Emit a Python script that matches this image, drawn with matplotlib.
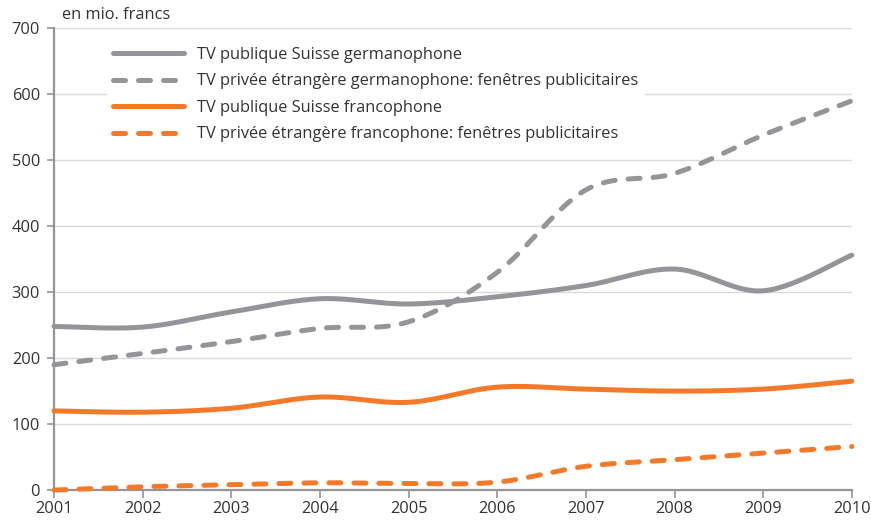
import numpy as np
import matplotlib
matplotlib.use("Agg")
import matplotlib.pyplot as plt
from matplotlib.lines import Line2D

years = [2001, 2002, 2003, 2004, 2005, 2006, 2007, 2008, 2009, 2010]
tv_pub_de = [248, 247, 270, 290, 282, 293, 310, 335, 302, 356]
tv_priv_de = [190, 207, 225, 245, 255, 330, 455, 480, 538, 590]
tv_pub_fr = [120, 118, 124, 141, 133, 156, 153, 150, 153, 165]
tv_priv_fr = [0, 5, 8, 11, 10, 12, 36, 46, 56, 66]
labels = [
    "TV publique Suisse germanophone",
    "TV privée étrangère germanophone: fenêtres publicitaires",
    "TV publique Suisse francophone",
    "TV privée étrangère francophone: fenêtres publicitaires",
]
y_label = "en mio. francs"

GRAY = "#949499"
ORANGE = "#F47A2A"
TXT = "#333333"

plt.rcParams['font.family'] = ['Open Sans', 'DejaVu Sans']


def smooth(x, y, n=30):
    """Catmull-Rom style cubic Bezier smoothing through the data points."""
    x = np.asarray(x, float)
    y = np.asarray(y, float)
    xs, ys = [], []
    N = len(x)
    for i in range(N - 1):
        p0 = np.array([x[max(i - 1, 0)], y[max(i - 1, 0)]])
        p1 = np.array([x[i], y[i]])
        p2 = np.array([x[i + 1], y[i + 1]])
        p3 = np.array([x[min(i + 2, N - 1)], y[min(i + 2, N - 1)]])
        c1 = p1 + (p2 - p0) / 6.0
        c2 = p2 - (p3 - p1) / 6.0
        t = np.linspace(0, 1, n, endpoint=(i == N - 2))
        b = ((1 - t) ** 3)[:, None] * p1 + (3 * (1 - t) ** 2 * t)[:, None] * c1 \
            + (3 * (1 - t) * t ** 2)[:, None] * c2 + (t ** 3)[:, None] * p2
        xs.append(b[:, 0])
        ys.append(b[:, 1])
    return np.concatenate(xs), np.concatenate(ys)


fig = plt.figure(figsize=(8.71, 5.23), dpi=100)
ax = fig.add_axes([0.062, 0.063, 0.916, 0.883])

lw = 3.6
dash = (0, (2.4, 2.6))
series = [
    (tv_pub_de, GRAY, '-'),
    (tv_priv_de, GRAY, dash),
    (tv_pub_fr, ORANGE, '-'),
    (tv_priv_fr, ORANGE, dash),
]
handles = []
for (vals, col, ls), lab in zip(series, labels):
    sx, sy = smooth(years, vals)
    ax.plot(sx, sy, color=col, lw=lw, ls=ls, dash_capstyle='round',
            solid_capstyle='round', zorder=3, clip_on=False)
    handles.append(Line2D([0], [0], color=col, lw=lw, ls=ls,
                          dash_capstyle='round', solid_capstyle='round'))

ax.set_xlim(2001, 2010)
ax.set_ylim(0, 700)
ax.set_xticks(years)
ax.set_yticks(range(0, 701, 100))
ax.yaxis.grid(True, color="#d9d9d9", lw=1.0, zorder=0)
ax.set_axisbelow(True)
for s in ['top', 'right']:
    ax.spines[s].set_visible(False)
for s in ['left', 'bottom']:
    ax.spines[s].set_color(GRAY)
    ax.spines[s].set_linewidth(1.6)
ax.tick_params(axis='both', colors=GRAY, labelcolor=TXT, labelsize=11.8,
               width=1.2)
ax.tick_params(axis='x', length=6, pad=2)
ax.tick_params(axis='y', length=5, pad=5)

fig.text(0.071, 0.972, y_label, fontsize=11.8, color=TXT, va='center', ha='left')

leg = ax.legend(handles, labels, loc='upper left', bbox_to_anchor=(0.066, 0.974),
                frameon=True, fontsize=11.8, handlelength=4.3, handletextpad=0.8,
                labelspacing=0.64, borderpad=0.4, borderaxespad=0)
leg.get_frame().set_facecolor('white')
leg.get_frame().set_edgecolor('none')
leg.get_frame().set_alpha(1)
for t in leg.get_texts():
    t.set_color(TXT)

fig.savefig("out.png", dpi=100)
